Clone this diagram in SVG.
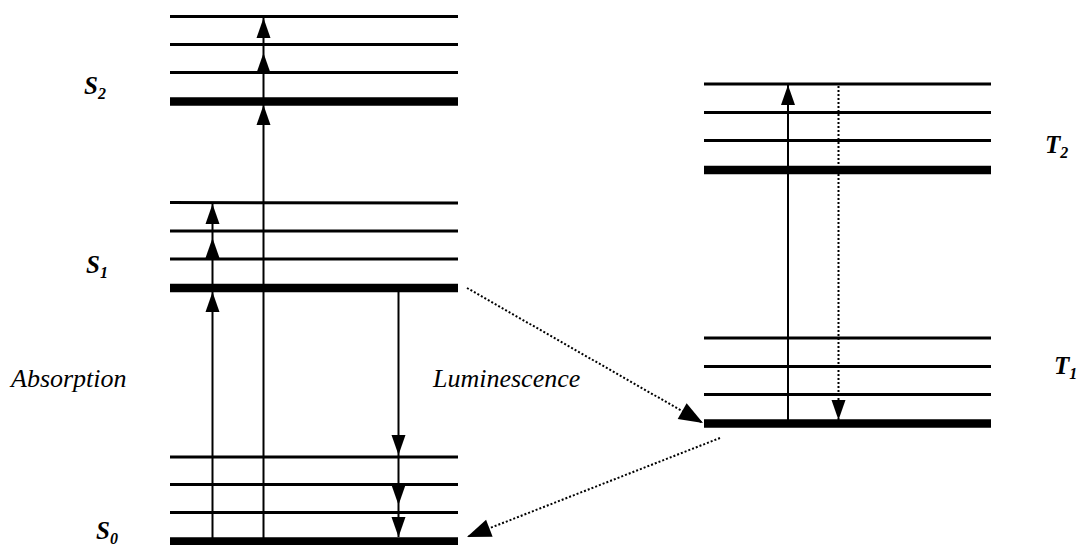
<svg xmlns="http://www.w3.org/2000/svg" width="1078" height="545" viewBox="0 0 1078 545">
<style>
.thin{stroke:#000;stroke-width:3}
.thick{stroke:#000;stroke-width:8.5}
.arr{stroke:#000;stroke-width:2;fill:none;marker-end:url(#ah)}
.dot{stroke:#000;stroke-width:2;stroke-dasharray:2 2;fill:none;marker-end:url(#ah2)}
.lbl{font-family:"Liberation Serif","Times New Roman",serif;font-style:italic;font-weight:bold;font-size:25px}
.sub{font-size:16px}
.cap{font-family:"Liberation Serif","Times New Roman",serif;font-style:italic;font-size:26px}
</style>
<defs>
<marker id="ah" markerUnits="userSpaceOnUse" markerWidth="20" markerHeight="14" refX="20" refY="7" orient="auto" overflow="visible">
<path d="M0,0 L20,7 L0,14 z" fill="#000"/>
</marker>
<marker id="ah2" markerUnits="userSpaceOnUse" markerWidth="24" markerHeight="18" refX="24" refY="9" orient="auto" overflow="visible">
<path d="M0,0 L24,9 L0,18 z" fill="#000"/>
</marker>
</defs>
<rect width="1078" height="545" fill="#fff"/>
<g id="S2">
<line class="thin" x1="170" y1="16.5" x2="458" y2="16.5"/>
<line class="thin" x1="170" y1="44.5" x2="458" y2="44.5"/>
<line class="thin" x1="170" y1="72.5" x2="458" y2="72.5"/>
<line class="thick" x1="170" y1="101.5" x2="458" y2="101.5"/>
<text class="lbl" x="84" y="94">S<tspan class="sub" dy="5">2</tspan></text>
</g>
<g id="S1">
<line class="thin" x1="170" y1="202.5" x2="458" y2="203"/>
<line class="thin" x1="170" y1="231" x2="458" y2="231"/>
<line class="thin" x1="170" y1="259" x2="458" y2="259"/>
<line class="thick" x1="170" y1="288" x2="458" y2="288"/>
<text class="lbl" x="86" y="273">S<tspan class="sub" dy="5">1</tspan></text>
</g>
<g id="S0">
<line class="thin" x1="170" y1="457" x2="458" y2="457"/>
<line class="thin" x1="170" y1="484.5" x2="458" y2="484.5"/>
<line class="thin" x1="170" y1="512.5" x2="458" y2="512.5"/>
<line class="thick" x1="170" y1="541.5" x2="458" y2="541.5"/>
<text class="lbl" x="96" y="539">S<tspan class="sub" dy="5">0</tspan></text>
</g>
<g id="T2">
<line class="thin" x1="704" y1="84" x2="991" y2="84"/>
<line class="thin" x1="704" y1="112.5" x2="991" y2="112.5"/>
<line class="thin" x1="704" y1="140.5" x2="991" y2="140.5"/>
<line class="thick" x1="704" y1="170" x2="991" y2="170"/>
<text class="lbl" x="1045" y="153">T<tspan class="sub" dy="5">2</tspan></text>
</g>
<g id="T1">
<line class="thin" x1="704" y1="338" x2="991" y2="338"/>
<line class="thin" x1="704" y1="366.5" x2="991" y2="366.5"/>
<line class="thin" x1="704" y1="394.5" x2="991" y2="394.5"/>
<line class="thick" x1="704" y1="423.5" x2="991" y2="423.5"/>
<text class="lbl" x="1054" y="374">T<tspan class="sub" dy="5">1</tspan></text>
</g>
<g id="labels">
<text class="cap" x="11" y="387">Absorption</text>
<text class="cap" x="433" y="387">Luminescence</text>
</g>
<g id="connectors">
<line class="arr" x1="212.5" y1="541" x2="212.5" y2="292"/>
<line class="arr" x1="212.5" y1="292" x2="212.5" y2="238"/>
<line class="arr" x1="212.5" y1="238" x2="212.5" y2="204"/>
<line class="arr" x1="263.5" y1="541" x2="263.5" y2="105"/>
<line class="arr" x1="263.5" y1="105" x2="263.5" y2="53"/>
<line class="arr" x1="263.5" y1="53" x2="263.5" y2="18"/>
<line class="arr" x1="398.5" y1="292" x2="398.5" y2="455"/>
<line class="arr" x1="398.5" y1="455" x2="398.5" y2="505"/>
<line class="arr" x1="398.5" y1="505" x2="398.5" y2="537"/>
<line class="arr" x1="788" y1="423" x2="788" y2="85"/>
<line class="arr" x1="838.5" y1="86" x2="838.5" y2="420" style="stroke-dasharray:2 2"/>
<line class="dot" x1="467" y1="288" x2="703" y2="423"/>
<line class="dot" x1="720" y1="438" x2="467" y2="537"/>
</g>
</svg>
